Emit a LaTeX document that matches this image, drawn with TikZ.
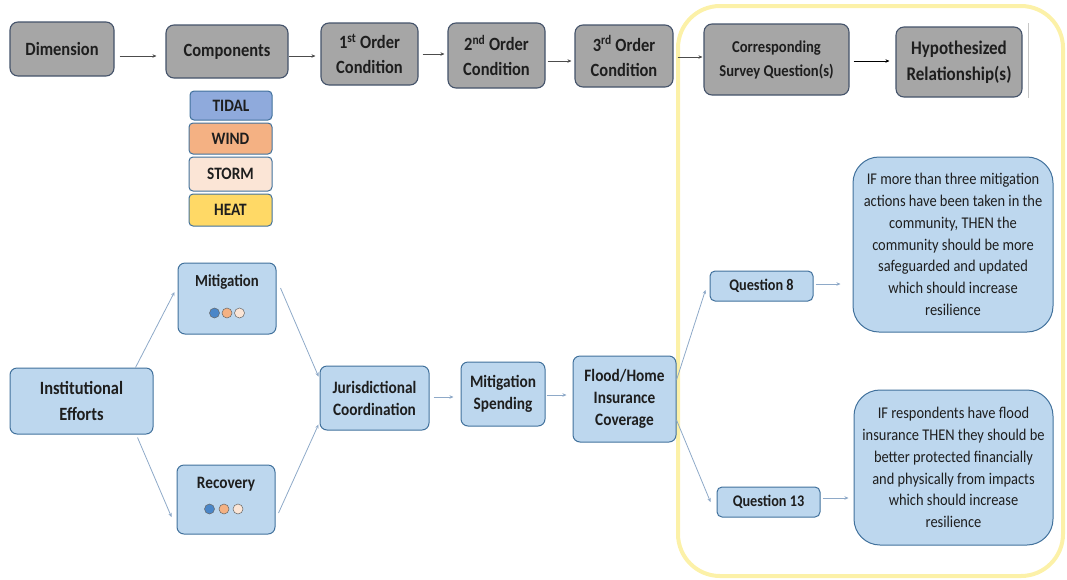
\documentclass[tikz,border=0pt]{standalone}
\usepackage{fontspec}
\setmainfont{Carlito}[FakeStretch=0.88]
\usetikzlibrary{calc,arrows.meta}

\definecolor{hdrfill}{HTML}{A6A6A6}
\definecolor{hdrline}{HTML}{44536A}
\definecolor{bluefill}{HTML}{BDD7EE}
\definecolor{blueline}{HTML}{41719C}
\definecolor{tidalfill}{HTML}{8FAADC}
\definecolor{windfill}{HTML}{F4B183}
\definecolor{stormfill}{HTML}{FBE5D6}
\definecolor{heatfill}{HTML}{FFD966}
\definecolor{dotblue}{HTML}{4A86C8}
\definecolor{txt}{HTML}{1E1E1E}
\definecolor{hilite}{HTML}{FCF1A8}
\definecolor{lowarrow}{HTML}{8EA9C8}

\tikzset{
  hdrbox/.style={draw=hdrline, line width=1.1pt, fill=hdrfill, rounded corners=8pt,
    inner sep=0pt, align=center, text=txt,
    font=\fontsize{18.7}{25}\selectfont\bfseries},
  bluebox/.style={draw=blueline, line width=1pt, fill=bluefill, rounded corners=7pt,
    inner sep=0pt, align=center, text=txt,
    font=\fontsize{17.4}{22}\selectfont\bfseries},
  hazard/.style={draw=blueline, line width=1pt, rounded corners=4pt,
    inner sep=0pt, text=txt, font=\fontsize{17.4}{18}\selectfont\bfseries},
  qbox/.style={bluebox, rounded corners=5pt, font=\fontsize{16.2}{18}\selectfont\bfseries},
  hypbox/.style={draw=blueline, line width=1pt, fill=bluefill, rounded corners=26pt,
    inner sep=0pt, align=center, text=txt,
    font=\fontsize{16.4}{21.8}\selectfont},
  dot/.style={circle, draw=gray!80!black, line width=0.5pt, minimum size=10pt, inner sep=0pt},
  hdrarrow/.style={draw=black!70, line width=0.8pt, -{Stealth[length=4pt,width=3.5pt]}},
  lowarr/.style={draw=lowarrow, line width=0.8pt, -{Stealth[length=4pt,width=3.5pt]}},
}

\begin{document}
\begin{tikzpicture}[x=1pt,y=-1pt]
\useasboundingbox (0,0) rectangle (1067,579);

% highlight frame round the survey part
\draw[hilite, line width=4pt, rounded corners=42pt] (678,6) rectangle (1063,576);

% header row
\node[hdrbox, minimum width=104pt, minimum height=54pt] (dim) at (62,49) {Dimension};
\node[hdrbox, minimum width=122pt, minimum height=53pt] (comp) at (227,51.5) {\raisebox{3pt}{Components}};
\node[hdrbox, minimum width=97pt, minimum height=62pt] (o1) at (369.5,54) {1\textsuperscript{st} Order\\Condition};
\node[hdrbox, minimum width=97pt, minimum height=65pt] (o2) at (496.5,55.5) {2\textsuperscript{nd} Order\\Condition};
\node[hdrbox, minimum width=98pt, minimum height=62pt] (o3) at (624,56) {3\textsuperscript{rd} Order\\Condition};
\node[hdrbox, minimum width=145pt, minimum height=71pt,
  font=\fontsize{16.6}{24}\selectfont\bfseries] (csq) at (776.5,59.5) {Corresponding\\Survey Question(s)};
\node[hdrbox, minimum width=126pt, minimum height=70pt,
  font=\fontsize{19.3}{26}\selectfont\bfseries] (hyp) at (959,62) {Hypothesized\\Relationship(s)};
\draw[black!22, line width=0.8pt] (1028,23) -- (1028,98);

% hazard legend
\node[hazard, fill=tidalfill, minimum width=82pt, minimum height=29pt] (tidal) at (231,105.5) {TIDAL};
\node[hazard, fill=windfill, minimum width=83pt, minimum height=31pt] (wind) at (230.5,138.5) {WIND};
\node[hazard, fill=stormfill, minimum width=83pt, minimum height=34pt] (storm) at (230.5,174) {STORM};
\node[hazard, fill=heatfill, minimum width=83pt, minimum height=32pt] (heat) at (230.5,210) {HEAT};

% lower flow
\node[bluebox, minimum width=143pt, minimum height=66pt, font=\fontsize{18.7}{26}\selectfont\bfseries]
  (inst) at (81.5,401) {Institutional\\Efforts};
\node[bluebox, minimum width=98pt, minimum height=71pt] (mit) at (227,298.5) {};
\node[text=txt, font=\fontsize{16.8}{18}\selectfont\bfseries] (mitlbl) at (227,282) {Mitigation};
\node[dot, fill=dotblue] (md1) at (214.5,313) {};
\node[dot, fill=windfill] (md2) at (227,313) {};
\node[dot, fill=stormfill] (md3) at (239.5,313) {};
\node[bluebox, minimum width=98pt, minimum height=69pt] (rec) at (226,499.5) {};
\node[text=txt, font=\fontsize{17.4}{18}\selectfont\bfseries] (reclbl) at (226,484) {Recovery};
\node[dot, fill=dotblue] (rd1) at (209.5,509) {};
\node[dot, fill=windfill] (rd2) at (224,509) {};
\node[dot, fill=stormfill] (rd3) at (238,509) {};
\node[bluebox, minimum width=109pt, minimum height=64pt] (jur) at (374.5,398) {Jurisdictional\\Coordination};
\node[bluebox, minimum width=84pt, minimum height=64pt] (ms) at (503,394) {Mitigation\\Spending};
\node[bluebox, minimum width=103pt, minimum height=86pt] (flood) at (624.5,399) {Flood/Home\\Insurance\\Coverage};
\node[qbox, minimum width=103pt, minimum height=30pt] (q8) at (761.5,286) {Question 8};
\node[qbox, minimum width=103pt, minimum height=30pt] (q13) at (768.5,502) {Question 13};
\node[hypbox, minimum width=200pt, minimum height=175pt] (h1) at (953,244.5)
  {IF more than three mitigation\\actions have been taken in the\\community, THEN the\\community should be more\\safeguarded and updated\\which should increase\\resilience};
\node[hypbox, minimum width=199pt, minimum height=155pt] (h2) at (953.5,467.5)
  {IF respondents have flood\\insurance THEN they should be\\better protected financially\\and physically from impacts\\which should increase\\resilience};

% header connectors
\draw[hdrarrow] ($(dim.east)+(5,7)$) -- ($(comp.west)+(-9,4.5)$);
\draw[hdrarrow] ($(comp.east)+(0,4.5)$) -- ($(o1.west)+(-5,2)$);
\draw[hdrarrow] ($(o1.east)+(4,0)$) -- ($(o2.west)+(-3,-1.5)$);
\draw[hdrarrow] ($(o2.east)+(2,5.5)$) -- ($(o3.west)+(-3,5)$);
\draw[hdrarrow] ($(o3.east)+(4,1)$) -- ($(csq.west)+(-1,-2.5)$);
\draw[hdrarrow, draw=black, line width=0.9pt] ($(csq.east)+(4,1.5)$) -- ($(hyp.west)+(-6,-1)$);

% lower connectors
\draw[lowarr] ($(inst.north east)+(-18,0)$) -- ($(mit.west)+(-3,-6.5)$);
\draw[lowarr] ($(inst.south east)+(-16,3)$) -- ($(rec.west)+(-5,17.5)$);
\draw[lowarr] ($(mit.east)+(4,-10.5)$) -- ($(jur.north west)+(-1,11)$);
\draw[lowarr] ($(rec.east)+(3,13.5)$) -- ($(jur.south west)+(-1,-6)$);
\draw[lowarr] ($(jur.east)+(4,-1)$) -- ($(ms.west)+(-7,3)$);
\draw[lowarr] ($(ms.east)+(1,1)$) -- ($(flood.west)+(-6,-4)$);
\draw[lowarr] ($(flood.east)+(0,-19)$) -- ($(q8.west)+(-4,4)$);
\draw[lowarr] ($(flood.east)+(0,21)$) -- ($(q13.west)+(-6,0)$);
\draw[lowarr] ($(q8.east)+(2,-2)$) -- ($(h1.west)+(-12,39.5)$);
\draw[lowarr] ($(q13.east)+(2,-4)$) -- ($(h2.west)+(-5,30.5)$);
\end{tikzpicture}
\end{document}
